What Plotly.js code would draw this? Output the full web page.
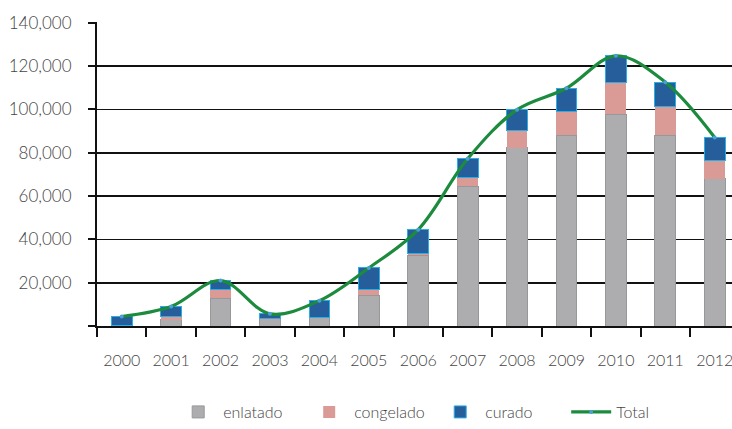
<!DOCTYPE html>
<html>
<head>
<meta charset="utf-8">
<script src="https://cdn.plot.ly/plotly-3.0.1.min.js"></script>
<style>html,body{margin:0;padding:0;background:#fff;}#chart{width:732px;height:429px;}</style>
</head>
<body>
<div id="chart"></div>
<script>
var years = ["2000","2001","2002","2003","2004","2005","2006","2007","2008","2009","2010","2011","2012"];
var enlatado = [300, 2900, 12800, 3000, 3700, 14300, 32600, 64600, 82400, 88100, 97700, 88200, 68000];
var congelado = [100, 1500, 4200, 400, 100, 2600, 800, 3800, 8100, 10900, 14900, 13300, 8500];
var curado = [4000, 4600, 4000, 2200, 7900, 9900, 11100, 8800, 9400, 10800, 12200, 11100, 10600];
var total = [4400, 9000, 21000, 5600, 11700, 26800, 44500, 77200, 99900, 109800, 124800, 112600, 87100];

var fontFam = "Lato, 'Open Sans', sans-serif";
var traces = [
  {type:"bar", name:"enlatado", x:years, y:enlatado,
   marker:{color:"#adadaf", line:{color:"#97989a", width:1}}},
  {type:"bar", name:"congelado", x:years, y:congelado,
   marker:{color:"#da9a95", line:{color:"#da9a95", width:0}}},
  {type:"bar", name:"curado", x:years, y:curado,
   marker:{color:"#265d9b", line:{color:"#2aaee6", width:1}}},
  {type:"scatter", mode:"lines+markers", name:"Total", x:years, y:total,
   line:{color:"#1c8b3d", width:3.2, shape:"spline", smoothing:1},
   marker:{color:"#4a9fd8", size:4}}
];
var layout = {
  width:732, height:429,
  margin:{l:97, r:0, t:22, b:101},
  paper_bgcolor:"#fff", plot_bgcolor:"#fff",
  barmode:"stack", bargap:0.58,
  font:{family:fontFam, color:"#444", size:16, weight:300},
  showlegend:true,
  legend:{orientation:"h", x:0.12, xanchor:"left", y:-0.285, yanchor:"middle",
          entrywidth:76, entrywidthmode:"pixels",
          font:{size:16, color:"#444", weight:300}, itemwidth:40, traceorder:"normal"},
  xaxis:{type:"category", range:[-0.5, 12.35], tickson:"boundaries",
         ticks:"outside", ticklen:9, tickwidth:2, tickcolor:"#111",
         ticklabelstandoff:19,
         showline:true, linecolor:"#111", linewidth:2, showgrid:false,
         tickfont:{size:16, color:"#444", weight:300}, fixedrange:true},
  yaxis:{range:[0, 140400], tickvals:[0,20000,40000,60000,80000,100000,120000,140000],
         ticktext:["","20,000","40,000","60,000","80,000","100,000","120,000","140,000"],
         ticks:"outside", ticklen:7, tickwidth:2, tickcolor:"#111",
         ticklabelstandoff:13,
         showgrid:true, gridcolor:"#111", gridwidth:1.6, zeroline:false,
         showline:true, linecolor:"#111", linewidth:2,
         tickfont:{size:17, color:"#444", weight:300}, fixedrange:true}
};
Plotly.newPlot("chart", traces, layout, {displayModeBar:false, staticPlot:true});
</script>
</body>
</html>
